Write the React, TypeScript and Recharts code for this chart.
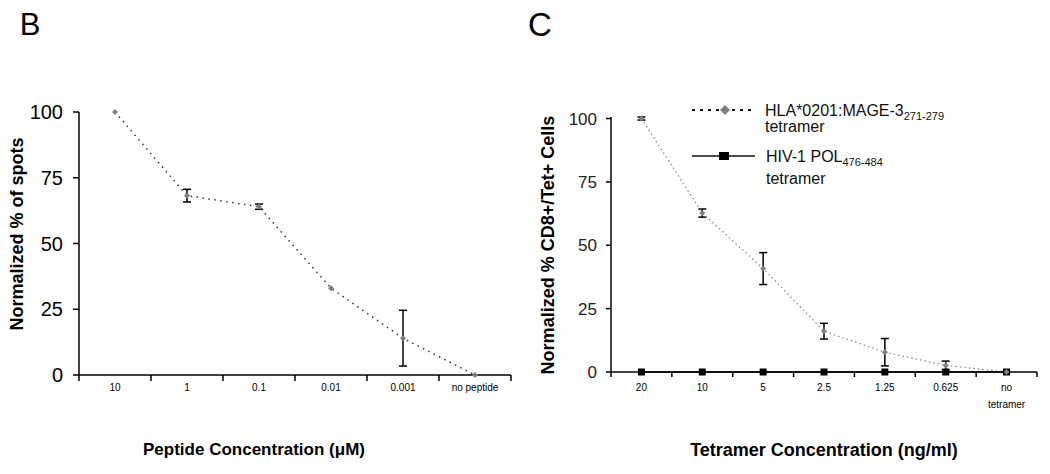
import React from "react";
import { LineChart, Line, XAxis, YAxis, ErrorBar } from "recharts";

const peptideLabels = ["10", "1", "0.1", "0.01", "0.001", "no peptide"];
const peptideSpots = [100, 68.2, 64, 33, 14, 0];
const peptideErr = [0, 2.4, 1, 0, 10.6, 0];

const tetramerLabels = ["20", "10", "5", "2.5", "1.25", "0.625", "no\ntetramer"];
const mageValues = [100, 62.7, 40.8, 16.1, 7.8, 2.6, 0];
const mageErr = [0.6, 1.6, 6.3, 3.1, 5.4, 1.7, 0];
const hivValues = [0, 0, 0, 0, 0, 0, 0];

const yTicks = [0, 25, 50, 75, 100];

const FONT = "Arial, 'Liberation Sans', sans-serif";

const peptideData = peptideLabels.map((l, i) => ({
  x: i + 0.5,
  spots: peptideSpots[i],
  err: peptideErr[i],
}));

const tetramerData = tetramerLabels.map((l, i) => ({
  x: i + 0.5,
  mage: mageValues[i],
  err: mageErr[i],
  hiv: hivValues[i],
}));

const bounds = (n: number) => Array.from({ length: n + 1 }, (_, i) => i);

function Diamond(props: any) {
  const { cx, cy, r = 4 } = props;
  if (cx == null || cy == null) return null;
  return (
    <polygon
      points={`${cx},${cy - r} ${cx + r},${cy} ${cx},${cy + r} ${cx - r},${cy}`}
      fill="#7f7f7f"
    />
  );
}

function Square(props: any) {
  const { cx, cy } = props;
  if (cx == null || cy == null) return null;
  return <rect x={cx - 3.5} y={cy - 3.5} width={7} height={7} fill="#000" />;
}

// labels sit in the middle of each band, tick marks on the band edges
function makeCatTick(labels: string[]) {
  return function CatTick(props: any) {
    const { x, y, payload, width } = props;
    const i = payload.value;
    if (i >= labels.length) return <g />;
    const cx = x + width / labels.length / 2;
    const lines = labels[i].split("\n");
    return (
      <text x={cx} y={y} textAnchor="middle" fontSize={10} fontFamily={FONT} fill="#000">
        {lines.map((t, k) => (
          <tspan key={k} x={cx} dy={k === 0 ? "0.71em" : 17}>
            {t}
          </tspan>
        ))}
      </text>
    );
  };
}

function TetramerLegend() {
  return (
    <svg width={300} height={100} style={{ fontFamily: FONT, display: "block" }}>
      <line x1={0} y1={10} x2={63} y2={10} stroke="#111" strokeWidth={2} strokeDasharray="3 5" />
      <Diamond cx={33} cy={10} r={5} />
      <text x={73} y={16} fontSize={16} fill="#111">
        HLA*0201:MAGE-3
        <tspan fontSize={11} dy={4}>271-279</tspan>
      </text>
      <text x={73} y={32} fontSize={16} fill="#111">tetramer</text>
      <line x1={0} y1={56} x2={63} y2={56} stroke="#111" strokeWidth={1.5} />
      <rect x={27} y={52} width={10} height={8} fill="#000" />
      <text x={74} y={62} fontSize={16} fill="#111">
        HIV-1 POL
        <tspan fontSize={11} dy={4}>476-484</tspan>
      </text>
      <text x={74} y={84} fontSize={16} fill="#111">tetramer</text>
    </svg>
  );
}

const axisStroke = { stroke: "#000", strokeWidth: 1.5 };

function title(
  text: React.ReactNode,
  cx: number,
  cy: number,
  size: number,
  vertical = false,
  bold = true
) {
  return (
    <div
      style={{
        position: "absolute",
        left: cx,
        top: cy,
        transform: `translate(-50%, -50%)${vertical ? " rotate(-90deg)" : ""}`,
        whiteSpace: "nowrap",
        fontFamily: FONT,
        fontSize: size,
        fontWeight: bold ? "bold" : "normal",
        color: "#000",
      }}
    >
      {text}
    </div>
  );
}

export default function App() {
  return (
    <div
      style={{
        position: "absolute",
        left: 0,
        top: 0,
        width: 1050,
        height: 474,
        background: "#fff",
        overflow: "hidden",
      }}
    >
      <div style={{ position: "absolute", left: 0, top: 0 }}>
        <LineChart
          width={530}
          height={474}
          data={peptideData}
          margin={{ top: 112, right: 19, bottom: 69, left: 0 }}
        >
          <XAxis
            type="number"
            dataKey="x"
            domain={[0, peptideLabels.length]}
            ticks={bounds(peptideLabels.length)}
            height={30}
            tickSize={6}
            tickMargin={3}
            axisLine={axisStroke}
            tickLine={axisStroke}
            tick={makeCatTick(peptideLabels)}
            interval={0}
          />
          <YAxis
            domain={[0, 100]}
            ticks={yTicks}
            width={79}
            tickSize={6}
            tickMargin={10}
            axisLine={axisStroke}
            tickLine={axisStroke}
            tick={{ fontSize: 20, fill: "#000", fontFamily: FONT }}
          />
          <Line
            dataKey="spots"
            stroke="#333"
            strokeWidth={1.5}
            strokeDasharray="1.5 4.5"
            dot={<Diamond />}
            isAnimationActive={false}
          >
            <ErrorBar dataKey="err" direction="y" width={4} stroke="#000" strokeWidth={1.5} />
          </Line>
        </LineChart>
      </div>

      <div style={{ position: "absolute", left: 530, top: 0 }}>
        <LineChart
          width={520}
          height={474}
          data={tetramerData}
          margin={{ top: 117, right: 13, bottom: 72, left: 0 }}
        >
          <XAxis
            type="number"
            dataKey="x"
            domain={[0, tetramerLabels.length]}
            ticks={bounds(tetramerLabels.length)}
            height={30}
            tickSize={5}
            tickMargin={7}
            axisLine={axisStroke}
            tickLine={axisStroke}
            tick={makeCatTick(tetramerLabels)}
            interval={0}
          />
          <YAxis
            domain={[0, 100]}
            ticks={yTicks}
            width={81}
            tickSize={5}
            tickMargin={9}
            axisLine={axisStroke}
            tickLine={axisStroke}
            tick={{ fontSize: 17, fill: "#222", fontFamily: FONT }}
          />
          <Line
            dataKey="hiv"
            stroke="#000"
            strokeWidth={1.5}
            dot={<Square />}
            isAnimationActive={false}
          />
          <Line
            dataKey="mage"
            stroke="#8a8a8a"
            strokeWidth={1.3}
            strokeDasharray="1.5 3"
            dot={<Diamond />}
            isAnimationActive={false}
          >
            <ErrorBar dataKey="err" direction="y" width={4} stroke="#000" strokeWidth={1.5} />
          </Line>
        </LineChart>
      </div>

      <div style={{ position: "absolute", left: 692, top: 100 }}>
        <TetramerLegend />
      </div>

      {title("B", 30, 25, 31, false, false)}
      {title("C", 540, 25, 33, false, false)}
      {title("Normalized % of spots", 17, 234, 18, true)}
      {title("Normalized % CD8+/Tet+ Cells", 548, 245, 18, true)}
      {title("Peptide Concentration (μM)", 254, 450, 17)}
      {title("Tetramer Concentration (ng/ml)", 824, 450, 18)}
    </div>
  );
}
